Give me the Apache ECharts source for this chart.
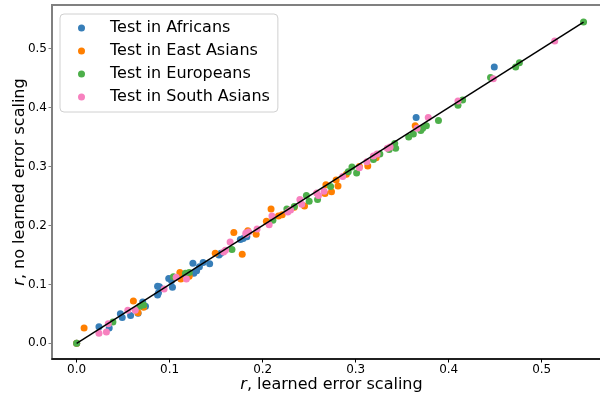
<!DOCTYPE html>
<html>
<head>
<meta charset="utf-8">
<script src="https://cdn.jsdelivr.net/npm/echarts@6/dist/echarts.min.js"></script>
<style>
  html, body { margin: 0; padding: 0; background: #ffffff; }
  #chart { width: 600px; height: 396px; }
</style>
</head>
<body>
<div id="chart"></div>
<script>
// 图例名称
const seriesNames = ['Test in Africans', 'Test in East Asians', 'Test in Europeans', 'Test in South Asians']

// [r learned, r no learned]
const africans = [
  [0.000, 0.000], [0.024, 0.028], [0.035, 0.026], [0.047, 0.050], [0.049, 0.044], [0.058, 0.047],
  [0.066, 0.051], [0.071, 0.070], [0.074, 0.063], [0.087, 0.097], [0.089, 0.096], [0.087, 0.082],
  [0.088, 0.086], [0.099, 0.110], [0.102, 0.106], [0.103, 0.095], [0.113, 0.112], [0.125, 0.136],
  [0.126, 0.119], [0.129, 0.123], [0.132, 0.130], [0.136, 0.137], [0.143, 0.135], [0.153, 0.150],
  [0.155, 0.153], [0.176, 0.176], [0.179, 0.178], [0.183, 0.181], [0.365, 0.383], [0.449, 0.469]
]
const eastAsians = [
  [0.000, 0.000], [0.008, 0.026], [0.061, 0.072], [0.066, 0.052], [0.072, 0.061], [0.111, 0.120],
  [0.112, 0.109], [0.121, 0.114], [0.149, 0.153], [0.169, 0.188], [0.178, 0.151], [0.184, 0.191],
  [0.193, 0.185], [0.204, 0.207], [0.209, 0.228], [0.217, 0.216], [0.221, 0.218], [0.234, 0.231],
  [0.245, 0.233], [0.267, 0.254], [0.268, 0.269], [0.274, 0.257], [0.279, 0.277], [0.281, 0.267],
  [0.290, 0.287], [0.304, 0.300], [0.313, 0.301], [0.322, 0.315], [0.364, 0.369]
]
const europeans = [
  [0.000, 0.000], [0.039, 0.036], [0.068, 0.063], [0.072, 0.065], [0.104, 0.113], [0.117, 0.119],
  [0.121, 0.120], [0.167, 0.159], [0.211, 0.209], [0.226, 0.228], [0.234, 0.232], [0.247, 0.251],
  [0.250, 0.241], [0.259, 0.244], [0.273, 0.266], [0.292, 0.291], [0.296, 0.299], [0.301, 0.289],
  [0.319, 0.312], [0.326, 0.321], [0.336, 0.329], [0.342, 0.339], [0.343, 0.331], [0.357, 0.350],
  [0.362, 0.355], [0.370, 0.361], [0.372, 0.365], [0.376, 0.369], [0.389, 0.378], [0.410, 0.404],
  [0.415, 0.413], [0.445, 0.451], [0.472, 0.469], [0.476, 0.476], [0.545, 0.545]
]
const southAsians = [
  [0.024, 0.017], [0.032, 0.019], [0.034, 0.033], [0.055, 0.056], [0.063, 0.056], [0.094, 0.092],
  [0.107, 0.112], [0.118, 0.109], [0.158, 0.155], [0.160, 0.158], [0.165, 0.172], [0.182, 0.187],
  [0.182, 0.185], [0.185, 0.189], [0.194, 0.194], [0.207, 0.201], [0.210, 0.216], [0.227, 0.223],
  [0.230, 0.226], [0.240, 0.244], [0.242, 0.236], [0.258, 0.255], [0.260, 0.251], [0.266, 0.258],
  [0.286, 0.283], [0.304, 0.298], [0.312, 0.308], [0.319, 0.318], [0.323, 0.321], [0.334, 0.331],
  [0.337, 0.333], [0.366, 0.365], [0.378, 0.383], [0.410, 0.411], [0.448, 0.449], [0.514, 0.513]
]
// y = x 参考线
const diagLine = [[0, 0], [0.545, 0.545]]

// 刻度
const xTicks = [0, 0.1, 0.2, 0.3, 0.4, 0.5]
const yTicks = [0, 0.1, 0.2, 0.3, 0.4, 0.5]

const colors = ['#377eb8', '#ff7f00', '#4daf4a', '#f781bf']
const groups = [africans, eastAsians, europeans, southAsians]

const font = 'DejaVu Sans'

const myChart = echarts.init(document.getElementById('chart'))

const series = groups.map((g, i) => ({
  name: seriesNames[i],
  type: 'scatter',
  data: g,
  symbolSize: 7,
  itemStyle: { color: colors[i], opacity: 1 },
  z: 2
}))
series.push({
  type: 'line',
  data: diagLine,
  showSymbol: false,
  symbol: 'none',
  lineStyle: { color: '#000000', width: 1.5 },
  z: 3
})

const options = {
  animation: false,
  backgroundColor: '#ffffff',
  grid: {
    left: 52,
    top: 5,
    right: -11,
    bottom: 37,
    containLabel: false,
    outerBoundsMode: 'none',
    show: true,
    borderColor: '#808080',
    borderWidth: 2
  },
  legend: {
    orient: 'vertical',
    left: 60,
    top: 14,
    width: 220,
    data: seriesNames,
    icon: 'circle',
    itemWidth: 7,
    itemHeight: 7,
    itemGap: 5,
    padding: [5, 8, 6, 18],
    backgroundColor: '#ffffff',
    borderColor: '#d0d0d0',
    borderWidth: 1,
    borderRadius: 4,
    textStyle: {
      fontFamily: font,
      fontSize: 16,
      color: '#000000',
      lineHeight: 18,
      padding: [0, 0, 0, 20]
    }
  },
  xAxis: {
    type: 'value',
    min: -0.0265,
    max: 0.5745,
    splitLine: { show: false },
    axisLine: { onZero: false, lineStyle: { color: '#000000', width: 1.5 } },
    axisTick: { customValues: xTicks, length: 3.5, lineStyle: { color: '#000000' } },
    axisLabel: {
      customValues: xTicks,
      formatter: v => v.toFixed(1),
      fontFamily: font,
      fontSize: 12,
      color: '#000000',
      margin: 5
    },
    name: '{i|r}, learned error scaling',
    nameLocation: 'middle',
    nameGap: 18,
    nameMoveOverlap: false,
    nameTextStyle: {
      fontFamily: font,
      fontSize: 16,
      color: '#000000',
      rich: { i: { fontStyle: 'italic', fontFamily: font, fontSize: 16 } }
    }
  },
  yAxis: {
    type: 'value',
    min: -0.0266,
    max: 0.574,
    splitLine: { show: false },
    axisLine: { onZero: false, lineStyle: { color: '#808080', width: 2 } },
    axisTick: { customValues: yTicks, length: 3.5, lineStyle: { color: '#808080' } },
    axisLabel: {
      customValues: yTicks,
      formatter: v => v.toFixed(1),
      fontFamily: font,
      fontSize: 12,
      color: '#000000',
      margin: 5
    },
    name: '{i|r}, no learned error scaling',
    nameLocation: 'middle',
    nameGap: 24,
    nameMoveOverlap: false,
    nameTextStyle: {
      fontFamily: font,
      fontSize: 16,
      color: '#000000',
      rich: { i: { fontStyle: 'italic', fontFamily: font, fontSize: 16 } }
    }
  },
  series: series
}

myChart.setOption(options)
</script>
</body>
</html>
